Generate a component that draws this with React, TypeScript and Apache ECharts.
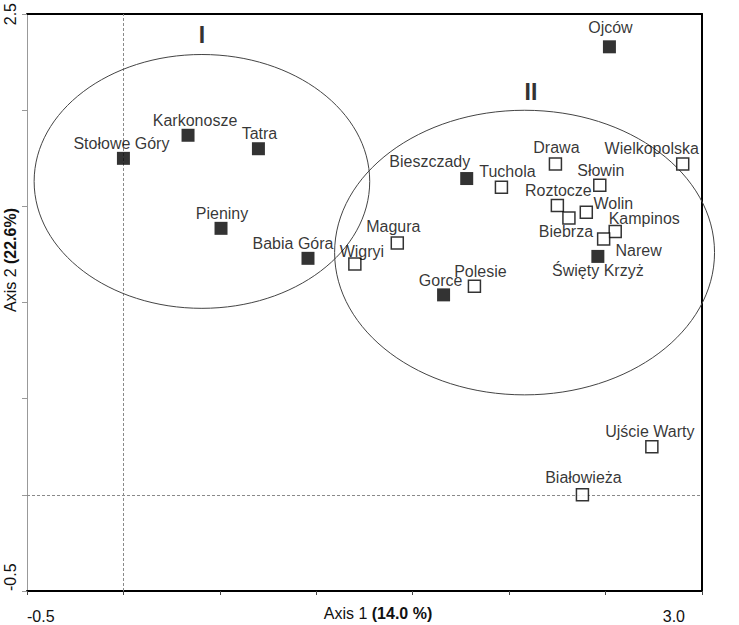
import React, { useEffect, useRef } from 'react';
import * as echarts from 'echarts';

const FONT = '"Liberation Sans", Arial, sans-serif';

const xMin = -0.5;
const xMax = 3.0;
const yMin = -0.5;
const yMax = 2.5;
const tickStep = 0.5;

const axis1Title = 'Axis 1 ';
const axis1Share = '(14.0 %)';
const axis2Title = 'Axis 2 ';
const axis2Share = '(22.6%)';

// Sites (national parks) and their ordination scores
const sites = [
  'Ojców', 'Karkonosze', 'Tatra', 'Stołowe Góry', 'Pieniny', 'Babia Góra', 'Bieszczady', 'Gorce', 'Święty Krzyż',
  'Tuchola', 'Drawa', 'Wielkopolska', 'Słowin', 'Roztocze', 'Wolin', 'Biebrza', 'Kampinos', 'Narew',
  'Magura', 'Wigryi', 'Polesie', 'Ujście Warty', 'Białowieża',
];
const axis1 = [
  2.52, 0.335, 0.70, 0.0, 0.506, 0.957, 1.78, 1.66, 2.46,
  1.96, 2.24, 2.90, 2.47, 2.25, 2.40, 2.31, 2.55, 2.49,
  1.42, 1.20, 1.82, 2.74, 2.38,
];
const axis2 = [
  2.33, 1.87, 1.80, 1.75, 1.386, 1.23, 1.645, 1.04, 1.24,
  1.60, 1.72, 1.72, 1.61, 1.505, 1.47, 1.44, 1.37, 1.33,
  1.31, 1.20, 1.085, 0.25, 0.0,
];
const marker = [
  'filled', 'filled', 'filled', 'filled', 'filled', 'filled', 'filled', 'filled', 'filled',
  'open', 'open', 'open', 'open', 'open', 'open', 'open', 'open', 'open',
  'open', 'open', 'open', 'open', 'open',
];

// Group ellipses (centre and radii in axis units) and their labels
const groupLabels = ['I', 'II'];
const groupCentreX = [0.407, 2.08];
const groupCentreY = [1.63, 1.26];
const groupRadiusX = [0.87, 0.985];
const groupRadiusY = [0.66, 0.74];
const groupLabelX = [0.407, 2.113];
const groupLabelY = [2.39, 2.096];

// label placement (pixel offsets from the marker centre) – styling only
const labelOffsets: Record<string, [number, number]> = {
  'Ojców': [1, -19],
  'Karkonosze': [7, -15],
  'Tatra': [1, -15],
  'Stołowe Góry': [-2, -15],
  'Pieniny': [1, -15],
  'Babia Góra': [-15, -15],
  'Bieszczady': [-37, -17],
  'Gorce': [-3, -14],
  'Święty Krzyż': [0, 14],
  'Tuchola': [6, -16],
  'Drawa': [1, -17],
  'Wielkopolska': [-31, -16],
  'Słowin': [1, -15],
  'Roztocze': [1, -15],
  'Wolin': [27, -9],
  'Biebrza': [-3, 14],
  'Kampinos': [29, -13],
  'Narew': [35, 11],
  'Magura': [-4, -16],
  'Wigryi': [7, -13],
  'Polesie': [6, -15],
  'Ujście Warty': [-2, -15],
  'Białowieża': [1, -17],
};

function buildData(kind: string) {
  const out: any[] = [];
  sites.forEach((name, i) => {
    if (marker[i] !== kind) return;
    const off = labelOffsets[name] || [0, -15];
    out.push({ name, value: [axis1[i], axis2[i]], label: { offset: off } });
  });
  return out;
}

const fmtEnds = (v: number, lo: number, hi: number) =>
  Math.abs(v - lo) < 1e-9 || Math.abs(v - hi) < 1e-9 ? v.toFixed(1) : '';

export default function App() {
  const ref = useRef<HTMLDivElement>(null);
  useEffect(() => {
    if (!ref.current) return;
    const chart = echarts.init(ref.current, null, { renderer: 'svg' });
    const labelCommon = {
      show: true,
      position: 'inside',
      formatter: '{b}',
      color: '#000',
      fontSize: 16,
      fontFamily: FONT,
    };
    const option: any = {
      animation: false,
      backgroundColor: '#fff',
      textStyle: { fontFamily: FONT },
      grid: { left: 27, right: 37, top: 12, bottom: 34, containLabel: false },
      xAxis: [
        {
          type: 'value', min: xMin, max: xMax, interval: tickStep, position: 'bottom',
          axisLine: { show: true, onZero: false, lineStyle: { color: '#000', width: 2 } },
          axisTick: { show: true, length: 4, lineStyle: { color: '#444' } },
          splitLine: { show: false },
          axisLabel: {
            margin: 17, fontSize: 16, color: '#111', fontFamily: FONT,
            alignMinLabel: 'left', alignMaxLabel: 'right',
            formatter: (v: number) => {
              const s = fmtEnds(v, xMin, xMax);
              if (!s) return '';
              return Math.abs(v - xMax) < 1e-9 ? '{m|' + s + '}' : s;
            },
            rich: { m: { fontSize: 16, color: '#111', fontFamily: FONT, padding: [0, 17, 0, 0] } },
          },
        },
        {
          type: 'value', min: xMin, max: xMax, interval: tickStep, position: 'top',
          axisLine: { show: true, onZero: false, lineStyle: { color: '#000', width: 2 } },
          axisTick: { show: false }, axisLabel: { show: false }, splitLine: { show: false },
        },
      ],
      yAxis: [
        {
          type: 'value', min: yMin, max: yMax, interval: tickStep, position: 'left',
          axisLine: { show: true, onZero: false, lineStyle: { color: '#999', width: 1 } },
          axisTick: { show: true, length: 5, lineStyle: { color: '#999' } },
          splitLine: { show: false },
          axisLabel: {
            rotate: 90, margin: 9, fontSize: 16, color: '#111', fontFamily: FONT,
            alignMinLabel: 'left',
            formatter: (v: number) => fmtEnds(v, yMin, yMax),
          },
        },
        {
          type: 'value', min: yMin, max: yMax, interval: tickStep, position: 'right',
          axisLine: { show: true, onZero: false, lineStyle: { color: '#000', width: 2 } },
          axisTick: { show: false }, axisLabel: { show: false }, splitLine: { show: false },
        },
      ],
      series: [
        {
          name: 'filled', type: 'scatter', xAxisIndex: 0, yAxisIndex: 0,
          symbol: 'rect', symbolSize: 13,
          itemStyle: { color: '#000' },
          label: labelCommon,
          data: buildData('filled'),
          z: 5,
          markLine: {
            silent: true, symbol: ['none', 'none'], label: { show: false },
            lineStyle: { type: [3, 2], color: '#8a8a8a', width: 1 },
            data: [{ xAxis: 0 }, { yAxis: 0 }],
            z: 1,
          },
        },
        {
          name: 'open', type: 'scatter', xAxisIndex: 0, yAxisIndex: 0,
          symbol: 'rect', symbolSize: 12,
          itemStyle: { color: '#fff', borderColor: '#000', borderWidth: 1.5 },
          label: labelCommon,
          data: buildData('open'),
          z: 5,
        },
      ],
    };
    chart.setOption(option);

    const graphics: any[] = [];
    groupLabels.forEach((lab, i) => {
      const c = chart.convertToPixel({ gridIndex: 0 }, [groupCentreX[i], groupCentreY[i]]) as number[];
      const ex = chart.convertToPixel({ gridIndex: 0 }, [groupCentreX[i] + groupRadiusX[i], groupCentreY[i] + groupRadiusY[i]]) as number[];
      graphics.push({
        type: 'ellipse', silent: true, z: 2,
        shape: { cx: c[0], cy: c[1], rx: Math.abs(ex[0] - c[0]), ry: Math.abs(c[1] - ex[1]) },
        style: { fill: 'transparent', stroke: '#444', lineWidth: 1 },
      });
      const lp = chart.convertToPixel({ gridIndex: 0 }, [groupLabelX[i], groupLabelY[i]]) as number[];
      graphics.push({
        type: 'text', silent: true, x: lp[0], y: lp[1], z: 3,
        style: {
          text: lab, fill: '#333', font: 'bold 23px ' + FONT,
          align: 'center', verticalAlign: 'middle',
        },
      });
    });
    graphics.push({
      type: 'text', silent: true, x: 378, y: 613,
      style: {
        text: '{n|' + axis1Title + '}{b|' + axis1Share + '}',
        align: 'center', verticalAlign: 'middle',
        rich: {
          n: { fontSize: 16, fontFamily: FONT, fill: '#111' },
          b: { fontSize: 16, fontFamily: FONT, fontWeight: 'bold', fill: '#111' },
        },
      },
    });
    graphics.push({
      type: 'text', silent: true, x: 10, y: 260, rotation: Math.PI / 2,
      style: {
        text: '{n|' + axis2Title + '}{b|' + axis2Share + '}',
        align: 'center', verticalAlign: 'middle',
        rich: {
          n: { fontSize: 16, fontFamily: FONT, fill: '#111' },
          b: { fontSize: 16, fontFamily: FONT, fontWeight: 'bold', fill: '#111' },
        },
      },
    });
    chart.setOption({ graphic: graphics });

    return () => chart.dispose();
  }, []);
  return (
    <div
      ref={ref}
      style={{ position: 'fixed', left: 0, top: 0, width: 739, height: 625, background: '#fff' }}
    />
  );
}
